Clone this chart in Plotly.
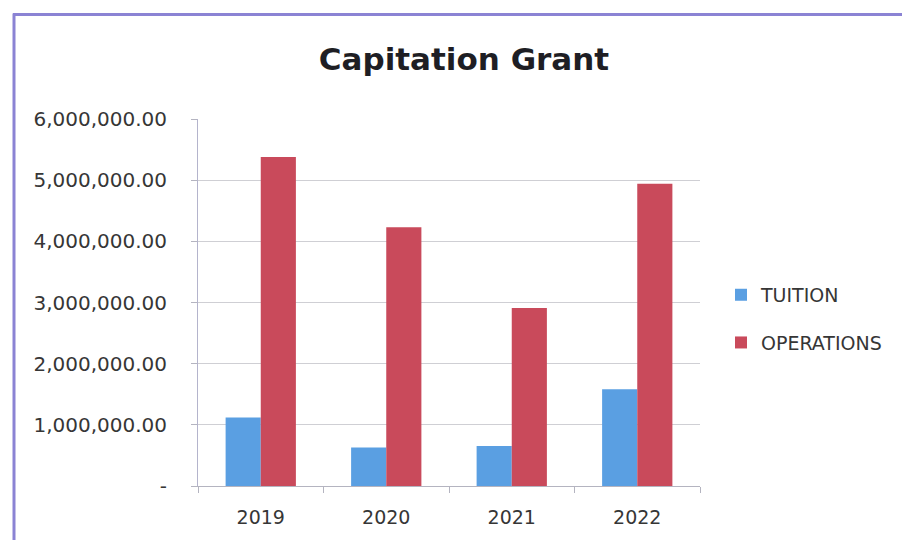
import plotly.graph_objects as go

# Capitation grant amounts by year
years = ["2019", "2020", "2021", "2022"]
tuition = [1120000, 630000, 655000, 1580000]
operations = [5380000, 4230000, 2910000, 4940000]

y_tick_vals = [0, 1000000, 2000000, 3000000, 4000000, 5000000, 6000000]
y_tick_text = ["-", "1,000,000.00", "2,000,000.00", "3,000,000.00",
               "4,000,000.00", "5,000,000.00", "6,000,000.00"]

W, H = 902, 540
PL, PR, PT, PB = 198, 700, 119, 488  # plot area in pixels
pw, ph = PR - PL, PB - PT

def px(x):
    return (x - PL) / pw

def py(y):
    return (PB - y) / ph

FONT = "DejaVu Sans"
TXT = "#363636"

fig = go.Figure()
fig.add_trace(go.Bar(x=years, y=tuition, name="TUITION",
                     marker=dict(color="#5a9fe2", line=dict(width=0)),
                     legendgroup="a"))
fig.add_trace(go.Bar(x=years, y=operations, name="OPERATIONS",
                     marker=dict(color="#c94a5b", line=dict(width=0)),
                     legendgroup="b"))

frame = "#8b83d4"
fig.update_layout(
    width=W, height=H,
    margin=dict(l=PL, r=W - PR, t=PT, b=H - PB),
    paper_bgcolor="white", plot_bgcolor="white",
    barmode="group", bargap=0.44, bargroupgap=0,
    title=dict(text="<b>Capitation Grant</b>", x=464 / W, xanchor="center",
               y=1 - 59 / H, yanchor="middle",
               font=dict(family=FONT, size=31, color="#1e1e24")),
    font=dict(family=FONT, size=19, color=TXT),
    legend=dict(x=px(721), y=py(320), xanchor="left", yanchor="middle",
                tracegroupgap=20, font=dict(family=FONT, size=19, color=TXT),
                itemwidth=30, bgcolor="rgba(0,0,0,0)"),
    xaxis=dict(showline=True, linecolor="#b4b4c0", linewidth=1,
               ticks="outside", tickson="boundaries", ticklen=6,
               tickcolor="#b4b4c0", tickfont=dict(size=19, color=TXT),
               ticklabelstandoff=14, showgrid=False),
    yaxis=dict(range=[0, 6000000], tickvals=y_tick_vals, ticktext=y_tick_text,
               showline=True, linecolor="#b4b4cc", linewidth=1,
               ticks="outside", ticklen=6, tickcolor="#b4b4c0",
               ticklabelstandoff=20, gridcolor="#cfcfd4", gridwidth=1,
               zeroline=False, tickfont=dict(size=20, color=TXT)),
    shapes=[
        dict(type="line", xref="paper", yref="paper",
             x0=px(13), x1=px(W + 5), y0=py(14), y1=py(14),
             line=dict(color=frame, width=3)),
        dict(type="line", xref="paper", yref="paper",
             x0=px(14), x1=px(14), y0=py(13), y1=py(H + 5),
             line=dict(color=frame, width=3)),
    ],
)

fig.write_html("out.html")
